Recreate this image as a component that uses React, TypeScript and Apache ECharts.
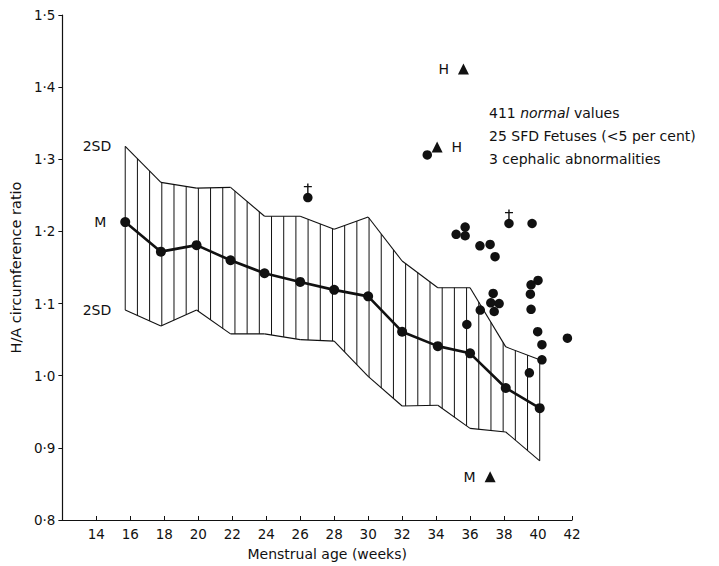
import React, { useEffect, useRef } from 'react';
import * as echarts from 'echarts';

// Mean (M) and ±2SD band of the normal H/A circumference ratio
const weeks = [15.7, 17.8, 19.9, 21.9, 23.9, 26.0, 28.0, 30.0, 32.0, 34.1, 36.0, 38.1, 40.1];
const meanRatio = [1.213, 1.172, 1.181, 1.160, 1.142, 1.130, 1.119, 1.110, 1.061, 1.041, 1.031, 0.983, 0.955];
const upper2SD = [1.318, 1.268, 1.260, 1.261, 1.221, 1.221, 1.203, 1.220, 1.159, 1.122, 1.122, 1.040, 1.022];
const lower2SD = [1.091, 1.069, 1.091, 1.058, 1.058, 1.050, 1.048, 0.999, 0.958, 0.959, 0.927, 0.922, 0.882];

// 25 SFD fetuses
const sfdDots: [number, number][] = [
  [33.48, 1.306], [35.18, 1.196], [35.71, 1.206], [35.71, 1.194], [39.65, 1.211],
  [36.58, 1.180], [37.18, 1.182], [37.47, 1.165], [40.0, 1.132], [39.59, 1.126],
  [39.55, 1.113], [39.59, 1.092], [37.36, 1.114], [37.22, 1.101], [37.71, 1.100],
  [37.42, 1.089], [36.6, 1.091], [35.81, 1.071], [39.98, 1.061], [41.73, 1.052],
  [40.23, 1.043], [40.23, 1.022], [39.49, 1.004],
];
const sfdCrossed: [number, number][] = [[26.45, 1.247], [38.29, 1.211]];

// 3 cephalic abnormalities
const cephalic: [number, number][] = [[35.61, 1.425], [34.06, 1.317], [37.18, 0.860]];
const cephalicLabels = ['H', 'H', 'M'];
const cephalicLabelSide = ['left', 'right', 'left'];

const legendLines = ['411 normal values', '25 SFD Fetuses (<5 per cent)', '3 cephalic abnormalities'];

const FONT = '"DejaVu Sans", "Liberation Sans", Arial, sans-serif';
const INK = '#111';
const HATCH_COUNT = 34;

export default function App() {
  const ref = useRef<HTMLDivElement>(null);
  useEffect(() => {
    if (!ref.current) return;
    const chart = echarts.init(ref.current, null, { renderer: 'svg', width: 719, height: 566 });
    const n = weeks.length;
    const bandData = weeks.map((w, i) => [w, lower2SD[i], upper2SD[i]]);

    const option: any = {
      animation: false,
      backgroundColor: '#fff',
      grid: { left: 57, right: 147, top: 15, bottom: 41, containLabel: false },
      xAxis: {
        type: 'value', min: 12, max: 42, interval: 2,
        name: 'Menstrual age (weeks)', nameLocation: 'middle', nameGap: 27,
        nameTextStyle: { fontFamily: FONT, fontSize: 14, color: INK, padding: [0, 0, 0, 20] },
        axisLine: { show: true, onZero: false, lineStyle: { color: INK, width: 1.2 } },
        axisTick: { show: true, inside: true, length: 4, lineStyle: { color: INK } },
        axisLabel: {
          fontFamily: FONT, fontSize: 13.5, color: INK, margin: 7,
          formatter: (v: number) => (v === 12 ? '' : String(v)),
        },
        splitLine: { show: false },
      },
      yAxis: {
        type: 'value', min: 0.8, max: 1.5, interval: 0.1,
        name: 'H/A circumference ratio', nameLocation: 'middle', nameGap: 33,
        nameTextStyle: { fontFamily: FONT, fontSize: 14.5, color: INK },
        axisLine: { show: true, onZero: false, lineStyle: { color: INK, width: 1.2 } },
        axisTick: { show: true, length: 4, lineStyle: { color: INK } },
        axisLabel: {
          fontFamily: FONT, fontSize: 13.5, color: INK, margin: 7,
          formatter: (v: number) => v.toFixed(1).replace('.', '·'),
        },
        splitLine: { show: false },
      },
      graphic: legendLines.map((t, i) => ({
        type: 'text', left: 489, top: 106 + i * 23,
        style: i === 0
          ? {
              text: '{a|411 }{b|normal}{a| values}',
              rich: {
                a: { fontFamily: FONT, fontSize: 14, fill: INK },
                b: { fontFamily: FONT, fontSize: 14, fontStyle: 'italic', fill: INK },
              },
            }
          : { text: t, fontFamily: FONT, fontSize: 14, fill: INK },
      })),
      series: [
        {
          type: 'custom',
          name: '2SD band',
          data: bandData,
          encode: { x: 0, y: [1, 2] },
          z: 1,
          renderItem: (params: any, api: any) => {
            const i = params.dataIndex;
            if (i >= n - 1) return { type: 'group', children: [] };
            const a = api.coord([weeks[i], upper2SD[i]]);
            const b = api.coord([weeks[i + 1], upper2SD[i + 1]]);
            const c = api.coord([weeks[i], lower2SD[i]]);
            const d = api.coord([weeks[i + 1], lower2SD[i + 1]]);
            const x0 = api.coord([weeks[0], 1])[0];
            const xN = api.coord([weeks[n - 1], 1])[0];
            const sp = (xN - x0) / HATCH_COUNT;
            const children: any[] = [
              { type: 'line', shape: { x1: a[0], y1: a[1], x2: b[0], y2: b[1] }, style: { stroke: INK, lineWidth: 1.1 } },
              { type: 'line', shape: { x1: c[0], y1: c[1], x2: d[0], y2: d[1] }, style: { stroke: INK, lineWidth: 1.1 } },
            ];
            const last = i === n - 2;
            for (let k = 0; k <= HATCH_COUNT; k++) {
              const x = x0 + k * sp;
              if (x < a[0] - 0.01) continue;
              if (x > b[0] + 0.01) break;
              if (!last && x >= b[0] - 0.01) break;
              const t = (x - a[0]) / (b[0] - a[0]);
              const yt = a[1] + (b[1] - a[1]) * t;
              const yb = c[1] + (d[1] - c[1]) * t;
              children.push({ type: 'line', shape: { x1: x, y1: yt, x2: x, y2: yb }, style: { stroke: INK, lineWidth: 1 } });
            }
            if (i === 0) {
              children.push({ type: 'text', x: a[0] - 14, y: a[1], style: { text: '2SD', align: 'right', verticalAlign: 'middle', fontFamily: FONT, fontSize: 14, fill: INK } });
              children.push({ type: 'text', x: c[0] - 14, y: c[1], style: { text: '2SD', align: 'right', verticalAlign: 'middle', fontFamily: FONT, fontSize: 14, fill: INK } });
            }
            return { type: 'group', children };
          },
        },
        {
          type: 'line',
          name: 'Mean',
          z: 3,
          data: weeks.map((w, i) => (i === 0
            ? { value: [w, meanRatio[i]], label: { show: true, formatter: 'M', position: 'left', distance: 14, fontFamily: FONT, fontSize: 14, color: INK } }
            : [w, meanRatio[i]])),
          symbol: 'circle', symbolSize: 10,
          lineStyle: { color: INK, width: 2.6 },
          itemStyle: { color: INK, opacity: 1 },
        },
        {
          type: 'scatter', name: 'SFD', z: 4,
          data: sfdDots, symbol: 'circle', symbolSize: 9.5,
          itemStyle: { color: INK, opacity: 1 },
        },
        {
          type: 'scatter', name: 'SFD crossed', z: 4,
          data: sfdCrossed, symbol: 'circle', symbolSize: 9.5,
          itemStyle: { color: INK, opacity: 1 },
        },
        {
          type: 'scatter', name: 'cross marks', z: 4,
          data: sfdCrossed,
          symbol: 'path://M3.3,0 L4.7,0 L4.7,10 L3.3,10 Z M0,2.4 L8,2.4 L8,3.8 L0,3.8 Z',
          symbolSize: [8, 10], symbolOffset: [0, -9],
          itemStyle: { color: INK, opacity: 1 },
        },
        {
          type: 'scatter', name: 'Cephalic', z: 4,
          data: cephalic.map((p, i) => ({
            value: p,
            label: {
              show: true, formatter: cephalicLabels[i], position: cephalicLabelSide[i], distance: 9,
              fontFamily: FONT, fontSize: 14, color: INK,
            },
          })),
          symbol: 'triangle', symbolSize: 11,
          itemStyle: { color: INK, opacity: 1 },
        },
      ],
    };
    chart.setOption(option);
    return () => chart.dispose();
  }, []);
  return <div ref={ref} style={{ position: 'fixed', left: 0, top: 0, width: 719, height: 566, background: '#fff' }} />;
}
